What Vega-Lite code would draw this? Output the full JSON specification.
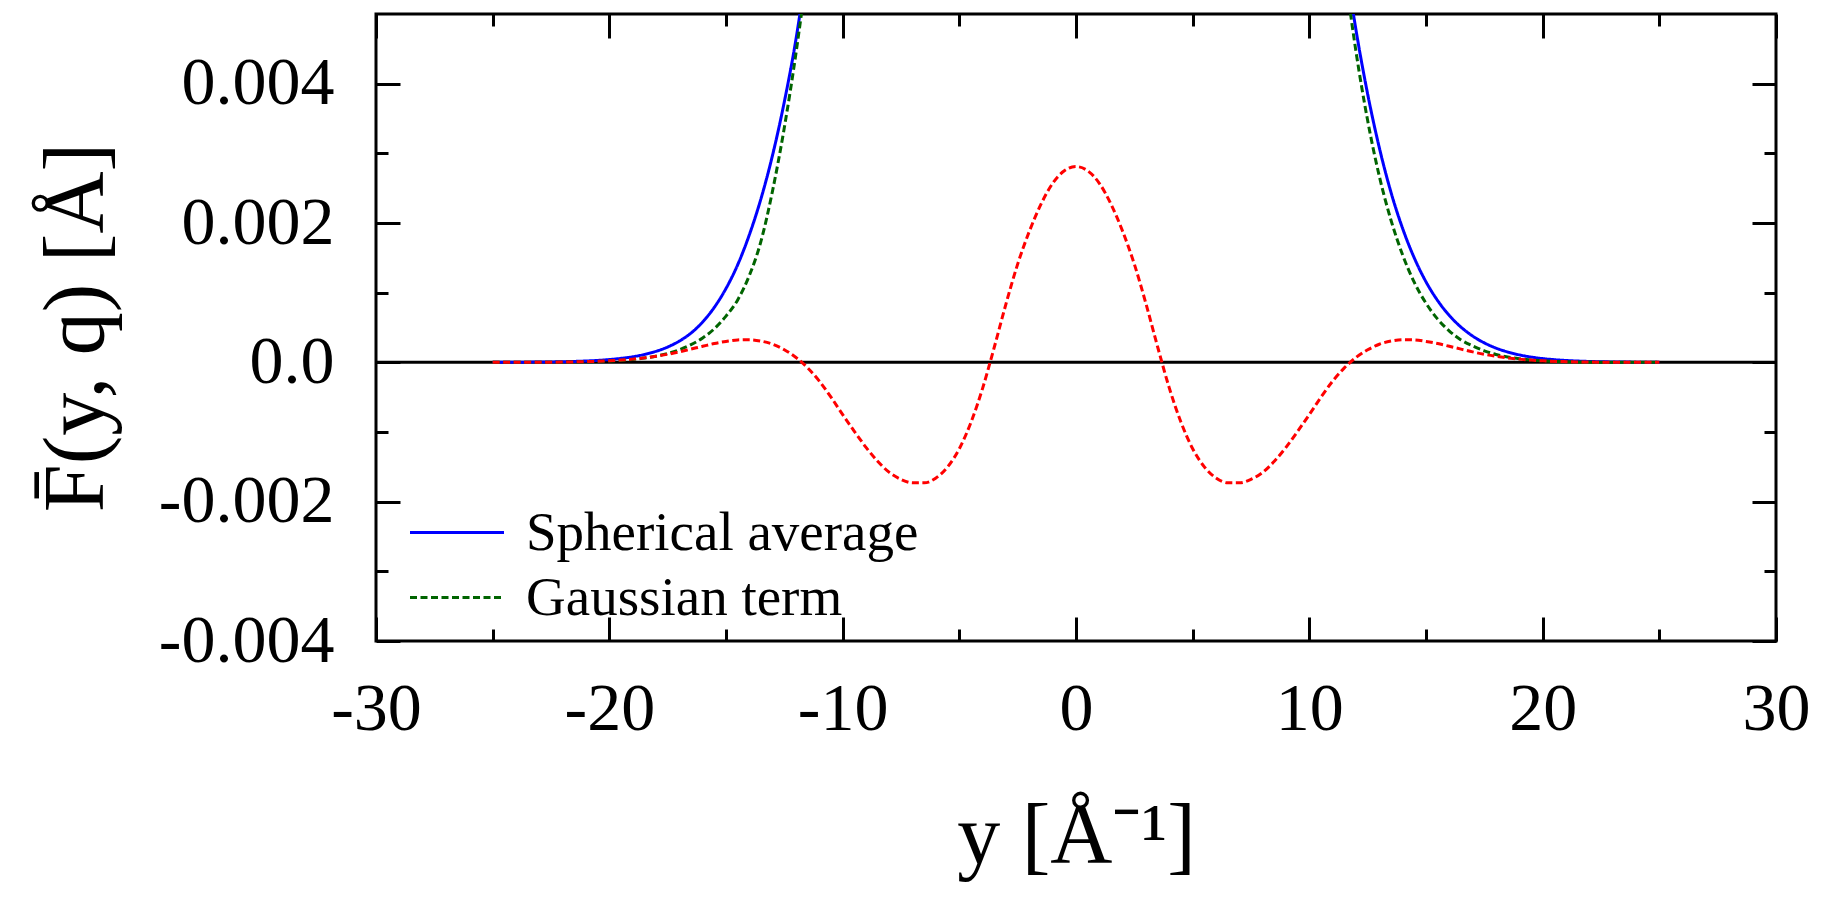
{
  "$schema": "https://vega.github.io/schema/vega-lite/v6.json",
  "width": 1400,
  "height": 627,
  "autosize": {"type": "none"},
  "padding": {"left": 376, "top": 14, "right": 49, "bottom": 274},
  "background": "white",
  "config": {
    "view": {"stroke": "black", "strokeWidth": 3},
    "axis": {
      "domain": false,
      "grid": false,
      "tickColor": "black",
      "tickWidth": 3,
      "labelFlush": false,
      "labelOverlap": false,
      "labelFont": "Liberation Serif",
      "labelFontSize": 68,
      "labelColor": "black",
      "titleFont": "Liberation Serif",
      "titleFontSize": 86,
      "titleFontWeight": "normal",
      "titleColor": "black"
    }
  },
  "datasets": {
    "blue": [
      {"y": -25, "F": 0.0000007, "curve": "Spherical average"},
      {"y": -24, "F": 0.0000017, "curve": "Spherical average"},
      {"y": -23, "F": 0.000004, "curve": "Spherical average"},
      {"y": -22, "F": 0.000009, "curve": "Spherical average"},
      {"y": -21, "F": 0.000019, "curve": "Spherical average"},
      {"y": -20, "F": 0.00004, "curve": "Spherical average"},
      {"y": -19.5, "F": 0.000057, "curve": "Spherical average"},
      {"y": -19, "F": 0.00008, "curve": "Spherical average"},
      {"y": -18.5, "F": 0.000113, "curve": "Spherical average"},
      {"y": -18, "F": 0.000158, "curve": "Spherical average"},
      {"y": -17.5, "F": 0.00022, "curve": "Spherical average"},
      {"y": -17, "F": 0.000305, "curve": "Spherical average"},
      {"y": -16.5, "F": 0.00042, "curve": "Spherical average"},
      {"y": -16, "F": 0.00058, "curve": "Spherical average"},
      {"y": -15.5, "F": 0.00079, "curve": "Spherical average"},
      {"y": -15, "F": 0.00106, "curve": "Spherical average"},
      {"y": -14.5, "F": 0.0014, "curve": "Spherical average"},
      {"y": -14, "F": 0.00183, "curve": "Spherical average"},
      {"y": -13.5, "F": 0.00235, "curve": "Spherical average"},
      {"y": -13, "F": 0.00298, "curve": "Spherical average"},
      {"y": -12.5, "F": 0.00374, "curve": "Spherical average"},
      {"y": -12, "F": 0.00464, "curve": "Spherical average"},
      {"y": -11.5, "F": 0.00578, "curve": "Spherical average"},
      {"y": -11, "F": 0.0071, "curve": "Spherical average"},
      {"y": -10.5, "F": 0.0086, "curve": "Spherical average"},
      {"y": -10, "F": 0.0103, "curve": "Spherical average"},
      {"y": -9, "F": 0.01437, "curve": "Spherical average"},
      {"y": -8, "F": 0.01935, "curve": "Spherical average"},
      {"y": -5, "F": 0.0383, "curve": "Spherical average"},
      {"y": 0, "F": 0.0593, "curve": "Spherical average"},
      {"y": 5, "F": 0.0383, "curve": "Spherical average"},
      {"y": 8, "F": 0.01935, "curve": "Spherical average"},
      {"y": 9, "F": 0.01437, "curve": "Spherical average"},
      {"y": 10, "F": 0.0103, "curve": "Spherical average"},
      {"y": 10.5, "F": 0.00862, "curve": "Spherical average"},
      {"y": 11, "F": 0.00713, "curve": "Spherical average"},
      {"y": 11.5, "F": 0.00586, "curve": "Spherical average"},
      {"y": 12, "F": 0.00477, "curve": "Spherical average"},
      {"y": 12.5, "F": 0.00385, "curve": "Spherical average"},
      {"y": 13, "F": 0.00308, "curve": "Spherical average"},
      {"y": 13.5, "F": 0.00244, "curve": "Spherical average"},
      {"y": 14, "F": 0.00192, "curve": "Spherical average"},
      {"y": 14.5, "F": 0.001497, "curve": "Spherical average"},
      {"y": 15, "F": 0.001156, "curve": "Spherical average"},
      {"y": 15.5, "F": 0.000886, "curve": "Spherical average"},
      {"y": 16, "F": 0.000672, "curve": "Spherical average"},
      {"y": 16.5, "F": 0.000506, "curve": "Spherical average"},
      {"y": 17, "F": 0.000377, "curve": "Spherical average"},
      {"y": 17.5, "F": 0.000279, "curve": "Spherical average"},
      {"y": 18, "F": 0.000204, "curve": "Spherical average"},
      {"y": 18.5, "F": 0.000149, "curve": "Spherical average"},
      {"y": 19, "F": 0.000107, "curve": "Spherical average"},
      {"y": 19.5, "F": 0.0000764, "curve": "Spherical average"},
      {"y": 20, "F": 0.000054, "curve": "Spherical average"},
      {"y": 21, "F": 0.0000264, "curve": "Spherical average"},
      {"y": 22, "F": 0.0000124, "curve": "Spherical average"},
      {"y": 23, "F": 0.0000057, "curve": "Spherical average"},
      {"y": 24, "F": 0.0000025, "curve": "Spherical average"},
      {"y": 25, "F": 0.0000011, "curve": "Spherical average"}
    ],
    "green": [
      {"y": -25, "F": 0.0000001, "curve": "Gaussian term"},
      {"y": -24, "F": 0.0000003, "curve": "Gaussian term"},
      {"y": -23, "F": 0.0000009, "curve": "Gaussian term"},
      {"y": -22, "F": 0.0000027, "curve": "Gaussian term"},
      {"y": -21, "F": 0.0000074, "curve": "Gaussian term"},
      {"y": -20, "F": 0.0000183, "curve": "Gaussian term"},
      {"y": -19.5, "F": 0.0000279, "curve": "Gaussian term"},
      {"y": -19, "F": 0.0000416, "curve": "Gaussian term"},
      {"y": -18.5, "F": 0.000061, "curve": "Gaussian term"},
      {"y": -18, "F": 0.000088, "curve": "Gaussian term"},
      {"y": -17.5, "F": 0.000127, "curve": "Gaussian term"},
      {"y": -17, "F": 0.000181, "curve": "Gaussian term"},
      {"y": -16.5, "F": 0.000254, "curve": "Gaussian term"},
      {"y": -16, "F": 0.00035, "curve": "Gaussian term"},
      {"y": -15.5, "F": 0.000482, "curve": "Gaussian term"},
      {"y": -15, "F": 0.000664, "curve": "Gaussian term"},
      {"y": -14.5, "F": 0.000896, "curve": "Gaussian term"},
      {"y": -14, "F": 0.001246, "curve": "Gaussian term"},
      {"y": -13.5, "F": 0.00174, "curve": "Gaussian term"},
      {"y": -13, "F": 0.00247, "curve": "Gaussian term"},
      {"y": -12.5, "F": 0.00337, "curve": "Gaussian term"},
      {"y": -12, "F": 0.00444, "curve": "Gaussian term"},
      {"y": -11.5, "F": 0.0057, "curve": "Gaussian term"},
      {"y": -11, "F": 0.00717, "curve": "Gaussian term"},
      {"y": -10.5, "F": 0.0089, "curve": "Gaussian term"},
      {"y": -10, "F": 0.011, "curve": "Gaussian term"},
      {"y": -9, "F": 0.0162, "curve": "Gaussian term"},
      {"y": -8, "F": 0.023, "curve": "Gaussian term"},
      {"y": -5, "F": 0.0512, "curve": "Gaussian term"},
      {"y": 0, "F": 0.0854, "curve": "Gaussian term"},
      {"y": 5, "F": 0.0512, "curve": "Gaussian term"},
      {"y": 8, "F": 0.023, "curve": "Gaussian term"},
      {"y": 9, "F": 0.0162, "curve": "Gaussian term"},
      {"y": 10, "F": 0.011, "curve": "Gaussian term"},
      {"y": 10.5, "F": 0.00891, "curve": "Gaussian term"},
      {"y": 11, "F": 0.00715, "curve": "Gaussian term"},
      {"y": 11.5, "F": 0.00568, "curve": "Gaussian term"},
      {"y": 12, "F": 0.00446, "curve": "Gaussian term"},
      {"y": 12.5, "F": 0.00347, "curve": "Gaussian term"},
      {"y": 13, "F": 0.00267, "curve": "Gaussian term"},
      {"y": 13.5, "F": 0.00204, "curve": "Gaussian term"},
      {"y": 14, "F": 0.00154, "curve": "Gaussian term"},
      {"y": 14.5, "F": 0.001147, "curve": "Gaussian term"},
      {"y": 15, "F": 0.000848, "curve": "Gaussian term"},
      {"y": 15.5, "F": 0.00062, "curve": "Gaussian term"},
      {"y": 16, "F": 0.000449, "curve": "Gaussian term"},
      {"y": 16.5, "F": 0.000322, "curve": "Gaussian term"},
      {"y": 17, "F": 0.000235, "curve": "Gaussian term"},
      {"y": 17.5, "F": 0.000165, "curve": "Gaussian term"},
      {"y": 18, "F": 0.000112, "curve": "Gaussian term"},
      {"y": 18.5, "F": 0.000076, "curve": "Gaussian term"},
      {"y": 19, "F": 0.000051, "curve": "Gaussian term"},
      {"y": 19.5, "F": 0.000034, "curve": "Gaussian term"},
      {"y": 20, "F": 0.000022, "curve": "Gaussian term"},
      {"y": 21, "F": 0.000009, "curve": "Gaussian term"},
      {"y": 22, "F": 0.0000035, "curve": "Gaussian term"},
      {"y": 23, "F": 0.0000012, "curve": "Gaussian term"},
      {"y": 24, "F": 0.0000004, "curve": "Gaussian term"},
      {"y": 25, "F": 0.0000001, "curve": "Gaussian term"}
    ],
    "red": [
      {"y": -25, "F": 0, "curve": "Difference"},
      {"y": -24, "F": 0.0000005, "curve": "Difference"},
      {"y": -23, "F": 0.0000015, "curve": "Difference"},
      {"y": -22, "F": 0.000004, "curve": "Difference"},
      {"y": -21, "F": 0.00001, "curve": "Difference"},
      {"y": -20, "F": 0.000022, "curve": "Difference"},
      {"y": -19.5, "F": 0.000032, "curve": "Difference"},
      {"y": -19, "F": 0.000046, "curve": "Difference"},
      {"y": -18.5, "F": 0.000064, "curve": "Difference"},
      {"y": -18, "F": 0.000087, "curve": "Difference"},
      {"y": -17.5, "F": 0.000115, "curve": "Difference"},
      {"y": -17, "F": 0.00015, "curve": "Difference"},
      {"y": -16.5, "F": 0.00019, "curve": "Difference"},
      {"y": -16, "F": 0.00023, "curve": "Difference"},
      {"y": -15.5, "F": 0.00027, "curve": "Difference"},
      {"y": -15, "F": 0.0003, "curve": "Difference"},
      {"y": -14.5, "F": 0.000322, "curve": "Difference"},
      {"y": -14, "F": 0.000325, "curve": "Difference"},
      {"y": -13.5, "F": 0.000305, "curve": "Difference"},
      {"y": -13, "F": 0.00026, "curve": "Difference"},
      {"y": -12.5, "F": 0.00018, "curve": "Difference"},
      {"y": -12, "F": 0.00007, "curve": "Difference"},
      {"y": -11.5, "F": -0.00008, "curve": "Difference"},
      {"y": -11, "F": -0.00027, "curve": "Difference"},
      {"y": -10.5, "F": -0.0005, "curve": "Difference"},
      {"y": -10, "F": -0.00075, "curve": "Difference"},
      {"y": -9.5, "F": -0.00099, "curve": "Difference"},
      {"y": -9, "F": -0.00122, "curve": "Difference"},
      {"y": -8.5, "F": -0.00142, "curve": "Difference"},
      {"y": -8, "F": -0.00158, "curve": "Difference"},
      {"y": -7.5, "F": -0.00168, "curve": "Difference"},
      {"y": -7, "F": -0.00173, "curve": "Difference"},
      {"y": -6.5, "F": -0.00173, "curve": "Difference"},
      {"y": -6, "F": -0.00166, "curve": "Difference"},
      {"y": -5.5, "F": -0.0015, "curve": "Difference"},
      {"y": -5, "F": -0.00124, "curve": "Difference"},
      {"y": -4.5, "F": -0.00086, "curve": "Difference"},
      {"y": -4, "F": -0.00037, "curve": "Difference"},
      {"y": -3.5, "F": 0.00022, "curve": "Difference"},
      {"y": -3, "F": 0.00084, "curve": "Difference"},
      {"y": -2.5, "F": 0.00141, "curve": "Difference"},
      {"y": -2, "F": 0.00188, "curve": "Difference"},
      {"y": -1.5, "F": 0.00227, "curve": "Difference"},
      {"y": -1, "F": 0.00257, "curve": "Difference"},
      {"y": -0.5, "F": 0.00275, "curve": "Difference"},
      {"y": 0, "F": 0.00281, "curve": "Difference"},
      {"y": 0.5, "F": 0.00275, "curve": "Difference"},
      {"y": 1, "F": 0.00257, "curve": "Difference"},
      {"y": 1.5, "F": 0.00227, "curve": "Difference"},
      {"y": 2, "F": 0.00188, "curve": "Difference"},
      {"y": 2.5, "F": 0.00141, "curve": "Difference"},
      {"y": 3, "F": 0.00084, "curve": "Difference"},
      {"y": 3.5, "F": 0.00022, "curve": "Difference"},
      {"y": 4, "F": -0.00037, "curve": "Difference"},
      {"y": 4.5, "F": -0.00086, "curve": "Difference"},
      {"y": 5, "F": -0.00124, "curve": "Difference"},
      {"y": 5.5, "F": -0.0015, "curve": "Difference"},
      {"y": 6, "F": -0.00166, "curve": "Difference"},
      {"y": 6.5, "F": -0.00173, "curve": "Difference"},
      {"y": 7, "F": -0.00173, "curve": "Difference"},
      {"y": 7.5, "F": -0.00168, "curve": "Difference"},
      {"y": 8, "F": -0.00158, "curve": "Difference"},
      {"y": 8.5, "F": -0.00142, "curve": "Difference"},
      {"y": 9, "F": -0.00122, "curve": "Difference"},
      {"y": 9.5, "F": -0.00099, "curve": "Difference"},
      {"y": 10, "F": -0.00075, "curve": "Difference"},
      {"y": 10.5, "F": -0.0005, "curve": "Difference"},
      {"y": 11, "F": -0.00027, "curve": "Difference"},
      {"y": 11.5, "F": -0.00008, "curve": "Difference"},
      {"y": 12, "F": 0.00007, "curve": "Difference"},
      {"y": 12.5, "F": 0.00018, "curve": "Difference"},
      {"y": 13, "F": 0.00026, "curve": "Difference"},
      {"y": 13.5, "F": 0.000305, "curve": "Difference"},
      {"y": 14, "F": 0.000325, "curve": "Difference"},
      {"y": 14.5, "F": 0.000322, "curve": "Difference"},
      {"y": 15, "F": 0.0003, "curve": "Difference"},
      {"y": 15.5, "F": 0.00027, "curve": "Difference"},
      {"y": 16, "F": 0.00023, "curve": "Difference"},
      {"y": 16.5, "F": 0.00019, "curve": "Difference"},
      {"y": 17, "F": 0.00015, "curve": "Difference"},
      {"y": 17.5, "F": 0.000115, "curve": "Difference"},
      {"y": 18, "F": 0.000087, "curve": "Difference"},
      {"y": 18.5, "F": 0.000064, "curve": "Difference"},
      {"y": 19, "F": 0.000046, "curve": "Difference"},
      {"y": 19.5, "F": 0.000032, "curve": "Difference"},
      {"y": 20, "F": 0.000022, "curve": "Difference"},
      {"y": 21, "F": 0.00001, "curve": "Difference"},
      {"y": 22, "F": 0.000004, "curve": "Difference"},
      {"y": 23, "F": 0.0000015, "curve": "Difference"},
      {"y": 24, "F": 0.0000005, "curve": "Difference"},
      {"y": 25, "F": 0, "curve": "Difference"}
    ]
  },
  "layer": [
    {
      "data": {"values": [{"ref": 0}]},
      "mark": {"type": "rule", "color": "black", "strokeWidth": 3},
      "encoding": {
        "x": {"datum": -30, "type": "quantitative", "scale": {"domain": [-30, 30], "nice": false, "zero": false},
          "axis": {"orient": "top", "values": [-25, -15, -5, 5, 15, 25], "tickSize": -12, "labels": false, "title": null}},
        "x2": {"datum": 30},
        "y": {"datum": 0, "type": "quantitative", "scale": {"domain": [-0.004, 0.005], "nice": false, "zero": false},
          "axis": {"orient": "right", "values": [-0.003, -0.001, 0.001, 0.003], "tickSize": -12, "labels": false, "title": null}}
      }
    },
    {
      "data": {"name": "blue"},
      "mark": {"type": "line", "clip": true, "strokeWidth": 3, "interpolate": "monotone"},
      "encoding": {
        "x": {"field": "y", "type": "quantitative", "scale": {"domain": [-30, 30], "nice": false, "zero": false},
          "axis": {"orient": "bottom", "values": [-30, -20, -10, 0, 10, 20, 30], "tickSize": -24, "labelPadding": 58,
            "labelExpr": "replace(datum.label, '−', '-')",
            "title": "y [Å⁻¹]", "titleX": 700, "titleY": 221, "titleBaseline": "alphabetic", "titleAlign": "center", "titleAnchor": null}},
        "y": {"field": "F", "type": "quantitative", "scale": {"domain": [-0.004, 0.005], "nice": false, "zero": false},
          "axis": {"orient": "left", "values": [-0.004, -0.002, 0, 0.002, 0.004], "tickSize": -24, "labelPadding": 66,
            "labelExpr": "datum.value == 0 ? '0.0' : replace(format(datum.value, '.3f'), '−', '-')",
            "title": "F̄(y, q) [Å]", "titleX": -300, "titleY": 313, "titleAngle": -90, "titleBaseline": "middle", "titleAlign": "center"}},
        "color": {"field": "curve", "type": "nominal",
          "scale": {"domain": ["Spherical average", "Gaussian term"], "range": ["#0000ff", "#006400"]},
          "legend": {"orient": "none", "legendX": 30, "legendY": 491, "title": null, "symbolType": "M-1,0L3,0", "symbolSize": 2209,
            "symbolStrokeWidth": 3, "labelFont": "Liberation Serif", "labelFontSize": 55, "labelColor": "black", "labelOffset": 65,
            "labelLimit": 0, "rowPadding": 9, "padding": 0, "labelBaseline": "middle"}},
        "strokeDash": {"field": "curve", "type": "nominal",
          "scale": {"domain": ["Spherical average", "Gaussian term"], "range": [[1, 0], [7, 3.5]]},
          "legend": {"orient": "none", "legendX": 30, "legendY": 491, "title": null, "symbolType": "M-1,0L3,0", "symbolSize": 2209,
            "symbolStrokeWidth": 3, "labelFont": "Liberation Serif", "labelFontSize": 55, "labelColor": "black", "labelOffset": 65,
            "labelLimit": 0, "rowPadding": 9, "padding": 0, "labelBaseline": "middle"}}
      }
    },
    {
      "data": {"name": "green"},
      "mark": {"type": "line", "clip": true, "strokeWidth": 3, "interpolate": "monotone"},
      "encoding": {
        "x": {"field": "y", "type": "quantitative", "scale": {"domain": [-30, 30], "nice": false, "zero": false},
          "axis": {"orient": "top", "values": [-30, -20, -10, 0, 10, 20, 30], "tickSize": -24, "labels": false, "title": null}},
        "y": {"field": "F", "type": "quantitative", "scale": {"domain": [-0.004, 0.005], "nice": false, "zero": false},
          "axis": {"orient": "right", "values": [-0.004, -0.002, 0, 0.002, 0.004], "tickSize": -24, "labels": false, "title": null}},
        "color": {"field": "curve", "type": "nominal",
          "scale": {"domain": ["Spherical average", "Gaussian term"], "range": ["#0000ff", "#006400"]}},
        "strokeDash": {"field": "curve", "type": "nominal",
          "scale": {"domain": ["Spherical average", "Gaussian term"], "range": [[1, 0], [7, 3.5]]}}
      }
    },
    {
      "data": {"name": "red"},
      "mark": {"type": "line", "clip": true, "strokeWidth": 3, "interpolate": "monotone", "color": "#ff0000", "strokeDash": [7, 3.5]},
      "encoding": {
        "x": {"field": "y", "type": "quantitative", "scale": {"domain": [-30, 30], "nice": false, "zero": false},
          "axis": {"orient": "bottom", "values": [-25, -15, -5, 5, 15, 25], "tickSize": -12, "labels": false, "title": null}},
        "y": {"field": "F", "type": "quantitative", "scale": {"domain": [-0.004, 0.005], "nice": false, "zero": false},
          "axis": {"orient": "left", "values": [-0.003, -0.001, 0.001, 0.003], "tickSize": -12, "labels": false, "title": null}}
      }
    }
  ],
  "resolve": {"axis": {"x": "independent", "y": "independent"}}
}
